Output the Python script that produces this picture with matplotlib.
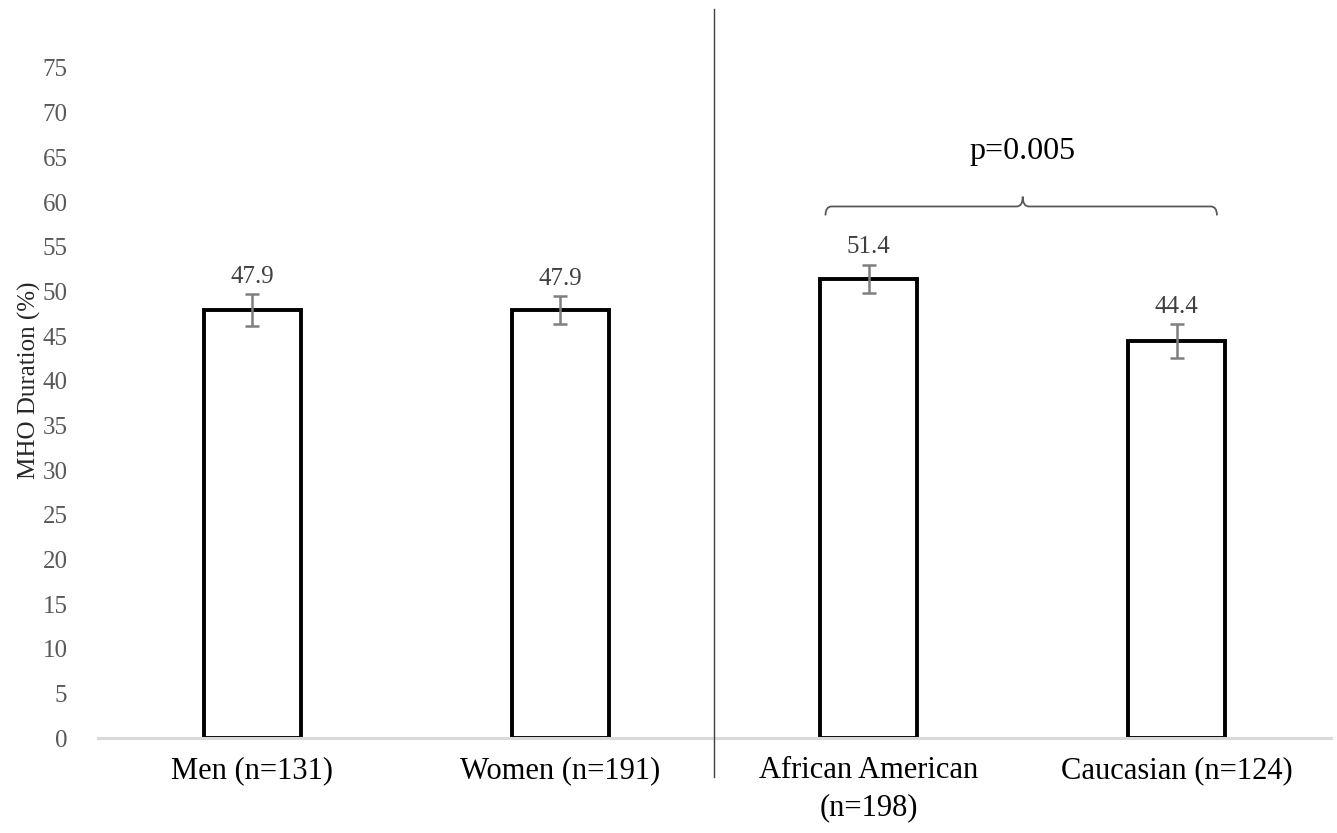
import matplotlib
matplotlib.use("Agg")
import matplotlib.pyplot as plt
from matplotlib.path import Path
from matplotlib.patches import PathPatch
from matplotlib.lines import Line2D

categories = ["Men (n=131)", "Women (n=191)", "African American\n(n=198)", "Caucasian (n=124)"]
values = [47.9, 47.9, 51.4, 44.4]
errors = [1.8, 1.6, 1.6, 1.9]
value_labels = ["47.9", "47.9", "51.4", "44.4"]
yticks = list(range(0, 80, 5))
p_text = "p=0.005"

plt.rcParams['font.family'] = ['Liberation Serif', 'DejaVu Serif']

fig = plt.figure(figsize=(13.37, 8.33), dpi=100)
ax = fig.add_axes([0.0733, 0.114, 0.9222, 0.858])

x = list(range(len(categories)))
ax.bar(x, values, width=0.315, color="white", edgecolor="black", linewidth=2.8, zorder=2)
ax.errorbar(x, values, yerr=errors, fmt="none", ecolor="#7f7f7f", elinewidth=1.8,
            capsize=5, capthick=1.8, zorder=3)

for xi, v, e, lab in zip(x, values, errors, value_labels):
    ax.text(xi, v + e + 1.25, lab, ha="center", va="baseline", fontsize=18, color="#404040")

ax.set_xlim(-0.5, 3.5)
ax.set_ylim(0, 80)
ax.set_yticks(yticks)
ax.set_xticks(x)
ax.set_xticklabels(categories, fontsize=22, color="black", linespacing=1.35)
ax.tick_params(axis="y", length=0, pad=22, labelsize=18, labelcolor="#595959")
ax.tick_params(axis="x", length=0, pad=13)
for s in ["top", "right", "left"]:
    ax.spines[s].set_visible(False)
ax.spines["bottom"].set_color("#d9d9d9")
ax.spines["bottom"].set_linewidth(2.2)
ax.set_ylabel("MHO Duration (%)", fontsize=18, color="#262626", labelpad=1)

# vertical separator
ax.add_line(Line2D([1.5, 1.5], [-4.4, 81.6], color="#404040", linewidth=1.0, clip_on=False, zorder=4))

# brace
xL, xR, xm = 1.86, 3.13, 2.5
yb, yl, yt = 58.5, 59.5, 60.6
dx = 0.02
verts = [(xL, yb), (xL, yl), (xL + dx, yl), (xm - dx, yl), (xm, yl), (xm, yt),
         (xm, yl), (xm + dx, yl), (xR - dx, yl), (xR, yl), (xR, yb)]
codes = [Path.MOVETO, Path.CURVE3, Path.CURVE3, Path.LINETO, Path.CURVE3, Path.CURVE3,
         Path.CURVE3, Path.CURVE3, Path.LINETO, Path.CURVE3, Path.CURVE3]
ax.add_patch(PathPatch(Path(verts, codes), facecolor="none", edgecolor="#595959", linewidth=1.3))
ax.text(2.5, 65.6, p_text, ha="center", va="center", fontsize=23, color="black")

fig.savefig("out.png", dpi=100)
